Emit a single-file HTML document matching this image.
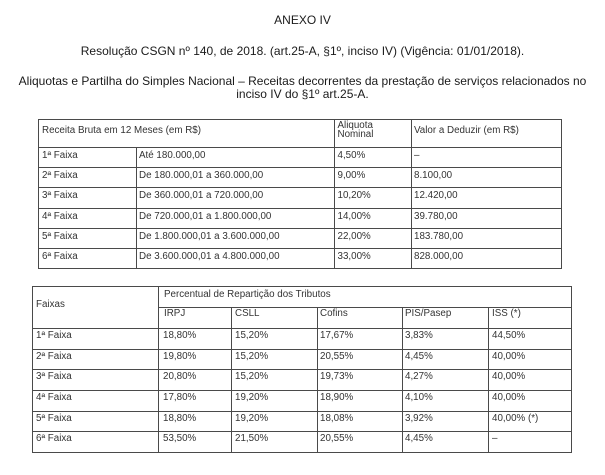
<!DOCTYPE html>
<html>
<head>
<meta charset="utf-8">
<style>
  html, body { margin:0; padding:0; background:#fff; }
  body { width:605px; height:475px; position:relative; overflow:hidden; }
  .ti { position:absolute; left:0; width:605px; text-align:center; font-family:"Liberation Sans", Arial, sans-serif; font-size:12px; line-height:14px; color:#1a1a1a; white-space:nowrap; }
  .t { position:absolute; font-family:"Liberation Sans", Arial, sans-serif; font-size:9.8px; line-height:12px; color:#333; white-space:nowrap; }
  .h { position:absolute; height:1px; background:#4a4a4a; }
  .v { position:absolute; width:1px; background:#4a4a4a; }
</style>
</head>
<body>
<div class="ti" style="top:13px;">ANEXO IV</div>
<div class="ti" style="top:43.5px;">Resolução CSGN nº 140, de 2018. (art.25-A, §1º, inciso IV) (Vigência: 01/01/2018).</div>
<div class="ti" style="top:73.5px;">Aliquotas e Partilha do Simples Nacional – Receitas decorrentes da prestação de serviços relacionados no</div>
<div class="ti" style="top:86.5px;">inciso IV do §1º art.25-A.</div>

<!-- Table 1 lines -->
<div class="h" style="left:38px;width:524px;top:119px;"></div>
<div class="h" style="left:38px;width:524px;top:147px;"></div>
<div class="h" style="left:38px;width:524px;top:167px;"></div>
<div class="h" style="left:38px;width:524px;top:187px;"></div>
<div class="h" style="left:38px;width:524px;top:208px;"></div>
<div class="h" style="left:38px;width:524px;top:228px;"></div>
<div class="h" style="left:38px;width:524px;top:248px;"></div>
<div class="h" style="left:38px;width:524px;top:268px;"></div>
<div class="v" style="left:38px;top:119px;height:150px;"></div>
<div class="v" style="left:136px;top:147px;height:122px;"></div>
<div class="v" style="left:334px;top:119px;height:150px;"></div>
<div class="v" style="left:411px;top:119px;height:150px;"></div>
<div class="v" style="left:561px;top:119px;height:150px;"></div>

<!-- Table 1 text -->
<div class="t" style="left:42px;top:125px;">Receita Bruta em 12 Meses (em R$)</div>
<div class="t" style="left:337.5px;top:119.7px;">Aliquota</div>
<div class="t" style="left:337.5px;top:129px;">Nominal</div>
<div class="t" style="left:414px;top:124.7px;">Valor a Deduzir (em R$)</div>

<div class="t" style="left:42px;top:149.5px;">1ª Faixa</div>
<div class="t" style="left:139px;top:149.5px;">Até 180.000,00</div>
<div class="t" style="left:337.5px;top:149.5px;">4,50%</div>
<div class="t" style="left:414px;top:149.5px;">–</div>

<div class="t" style="left:42px;top:169.5px;">2ª Faixa</div>
<div class="t" style="left:139px;top:169.5px;">De 180.000,01 a 360.000,00</div>
<div class="t" style="left:337.5px;top:169.5px;">9,00%</div>
<div class="t" style="left:414px;top:169.5px;">8.100,00</div>

<div class="t" style="left:42px;top:189.5px;">3ª Faixa</div>
<div class="t" style="left:139px;top:189.5px;">De 360.000,01 a 720.000,00</div>
<div class="t" style="left:337.5px;top:189.5px;">10,20%</div>
<div class="t" style="left:414px;top:189.5px;">12.420,00</div>

<div class="t" style="left:42px;top:210.5px;">4ª Faixa</div>
<div class="t" style="left:139px;top:210.5px;">De 720.000,01 a 1.800.000,00</div>
<div class="t" style="left:337.5px;top:210.5px;">14,00%</div>
<div class="t" style="left:414px;top:210.5px;">39.780,00</div>

<div class="t" style="left:42px;top:230.5px;">5ª Faixa</div>
<div class="t" style="left:139px;top:230.5px;">De 1.800.000,01 a 3.600.000,00</div>
<div class="t" style="left:337.5px;top:230.5px;">22,00%</div>
<div class="t" style="left:414px;top:230.5px;">183.780,00</div>

<div class="t" style="left:42px;top:250.5px;">6ª Faixa</div>
<div class="t" style="left:139px;top:250.5px;">De 3.600.000,01 a 4.800.000,00</div>
<div class="t" style="left:337.5px;top:250.5px;">33,00%</div>
<div class="t" style="left:414px;top:250.5px;">828.000,00</div>

<!-- Table 2 lines -->
<div class="h" style="left:32px;width:540px;top:286px;"></div>
<div class="h" style="left:158px;width:414px;top:307px;"></div>
<div class="h" style="left:32px;width:540px;top:328px;"></div>
<div class="h" style="left:32px;width:540px;top:349px;"></div>
<div class="h" style="left:32px;width:540px;top:369px;"></div>
<div class="h" style="left:32px;width:540px;top:390px;"></div>
<div class="h" style="left:32px;width:540px;top:411px;"></div>
<div class="h" style="left:32px;width:540px;top:431px;"></div>
<div class="h" style="left:32px;width:540px;top:452px;"></div>
<div class="v" style="left:32px;top:286px;height:167px;"></div>
<div class="v" style="left:158px;top:286px;height:167px;"></div>
<div class="v" style="left:231px;top:307px;height:146px;"></div>
<div class="v" style="left:317px;top:307px;height:146px;"></div>
<div class="v" style="left:402px;top:307px;height:146px;"></div>
<div class="v" style="left:488px;top:307px;height:146px;"></div>
<div class="v" style="left:571px;top:286px;height:167px;"></div>

<!-- Table 2 text -->
<div class="t" style="left:36px;top:299px;">Faixas</div>
<div class="t" style="left:164px;top:289px;">Percentual de Repartição dos Tributos</div>
<div class="t" style="left:164px;top:308px;">IRPJ</div>
<div class="t" style="left:235px;top:308px;">CSLL</div>
<div class="t" style="left:320px;top:308px;">Cofins</div>
<div class="t" style="left:405px;top:308px;">PIS/Pasep</div>
<div class="t" style="left:492px;top:308px;">ISS (*)</div>

<div class="t" style="left:36px;top:330px;">1ª Faixa</div>
<div class="t" style="left:163px;top:330px;">18,80%</div>
<div class="t" style="left:235px;top:330px;">15,20%</div>
<div class="t" style="left:320px;top:330px;">17,67%</div>
<div class="t" style="left:405px;top:330px;">3,83%</div>
<div class="t" style="left:492px;top:330px;">44,50%</div>

<div class="t" style="left:36px;top:351px;">2ª Faixa</div>
<div class="t" style="left:163px;top:351px;">19,80%</div>
<div class="t" style="left:235px;top:351px;">15,20%</div>
<div class="t" style="left:320px;top:351px;">20,55%</div>
<div class="t" style="left:405px;top:351px;">4,45%</div>
<div class="t" style="left:492px;top:351px;">40,00%</div>

<div class="t" style="left:36px;top:371px;">3ª Faixa</div>
<div class="t" style="left:163px;top:371px;">20,80%</div>
<div class="t" style="left:235px;top:371px;">15,20%</div>
<div class="t" style="left:320px;top:371px;">19,73%</div>
<div class="t" style="left:405px;top:371px;">4,27%</div>
<div class="t" style="left:492px;top:371px;">40,00%</div>

<div class="t" style="left:36px;top:392px;">4ª Faixa</div>
<div class="t" style="left:163px;top:392px;">17,80%</div>
<div class="t" style="left:235px;top:392px;">19,20%</div>
<div class="t" style="left:320px;top:392px;">18,90%</div>
<div class="t" style="left:405px;top:392px;">4,10%</div>
<div class="t" style="left:492px;top:392px;">40,00%</div>

<div class="t" style="left:36px;top:413px;">5ª Faixa</div>
<div class="t" style="left:163px;top:413px;">18,80%</div>
<div class="t" style="left:235px;top:413px;">19,20%</div>
<div class="t" style="left:320px;top:413px;">18,08%</div>
<div class="t" style="left:405px;top:413px;">3,92%</div>
<div class="t" style="left:492px;top:413px;">40,00% (*)</div>

<div class="t" style="left:36px;top:433px;">6ª Faixa</div>
<div class="t" style="left:163px;top:433px;">53,50%</div>
<div class="t" style="left:235px;top:433px;">21,50%</div>
<div class="t" style="left:320px;top:433px;">20,55%</div>
<div class="t" style="left:405px;top:433px;">4,45%</div>
<div class="t" style="left:492px;top:433px;">–</div>
</body>
</html>
